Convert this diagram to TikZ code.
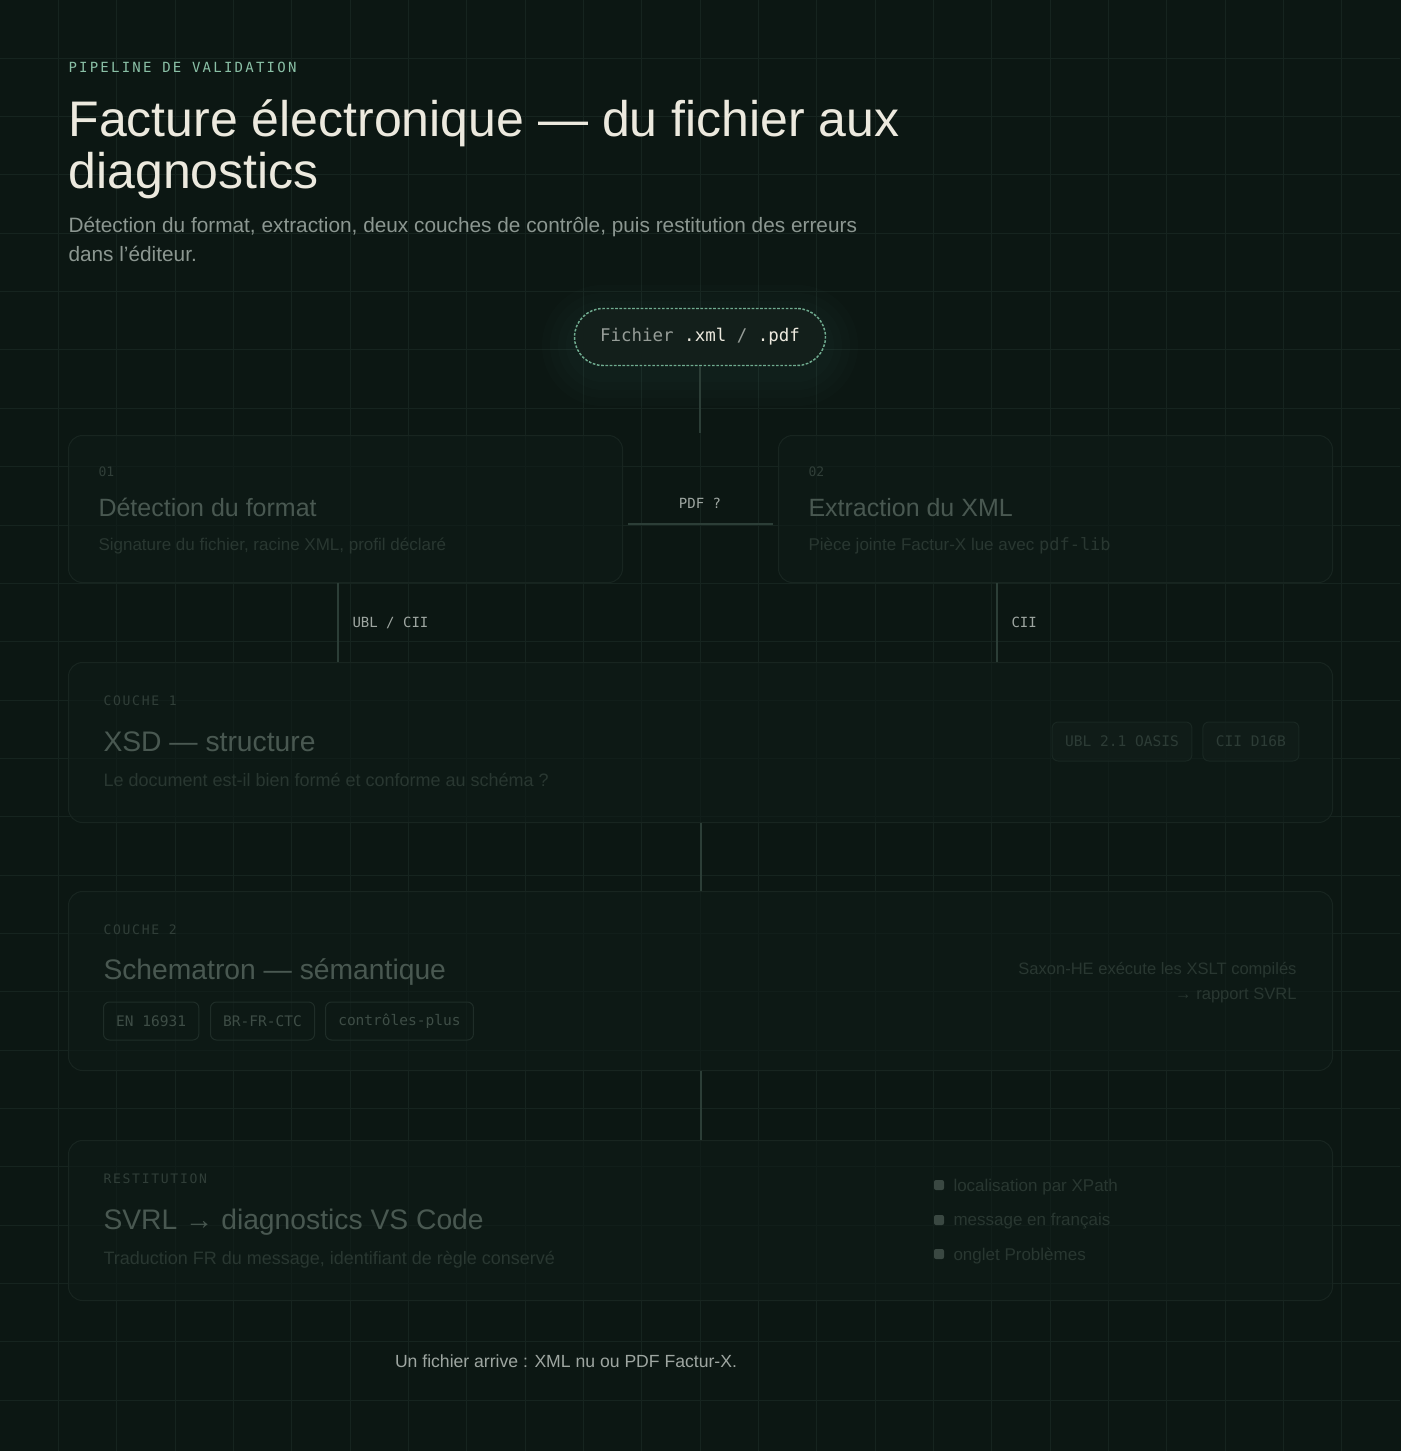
\documentclass[tikz,border=0pt]{standalone}
\usepackage{fontspec}
\setmainfont{Liberation Sans}
\newfontfamily\codefont{DejaVu Sans Mono}
\newfontfamily\eyebrowfont{DejaVu Sans Mono}[LetterSpace=16]
\newfontfamily\kickerfont{DejaVu Sans Mono}[LetterSpace=13]
\usetikzlibrary{positioning,calc}

\definecolor{bgdark}{RGB}{12,23,19}
\definecolor{gridc}{RGB}{22,36,31}
\definecolor{cardfill}{RGB}{15,27,23}
\definecolor{carddraw}{RGB}{24,37,32}
\definecolor{titlec}{RGB}{236,233,222}
\definecolor{mint}{RGB}{138,192,166}
\definecolor{subc}{RGB}{140,151,145}
\definecolor{dimnum}{RGB}{48,62,56}
\definecolor{dimhead}{RGB}{73,88,81}
\definecolor{dimtext}{RGB}{41,55,49}
\definecolor{linkc}{RGB}{44,62,55}
\definecolor{labelc}{RGB}{158,166,161}
\definecolor{tagfill}{RGB}{18,30,26}
\definecolor{tagdraw}{RGB}{25,39,34}
\definecolor{tagtext}{RGB}{45,60,54}
\definecolor{chipdraw}{RGB}{31,45,40}
\definecolor{chiptext}{RGB}{62,77,70}
\definecolor{pillfill}{RGB}{19,31,27}
\definecolor{pilldraw}{RGB}{112,172,144}
\definecolor{pillgray}{RGB}{150,157,152}
\definecolor{dotc}{RGB}{58,72,66}
\definecolor{footc}{RGB}{158,166,161}

\tikzset{every picture/.style={line width=0.75pt}}
\tikzset{
  gridline/.style={draw=gridc, line width=0.75pt},
  card/.style={draw=carddraw, fill=cardfill, fill opacity=0.6, rounded corners=10.5pt, anchor=north west, inner sep=0pt},
  txt/.style={inner sep=0pt, anchor=base west},
  link/.style={draw=linkc, line width=1.5pt},
  edgelabel/.style={inner sep=0pt, text=labelc, font=\codefont\fontsize{10.5}{12}\selectfont},
  tag/.style={draw=tagdraw, fill=tagfill, fill opacity=0.7, text opacity=1, rounded corners=4.5pt, inner xsep=9.75pt, inner ysep=0pt, minimum height=29.25pt, text=tagtext, font=\codefont\fontsize{10.9}{12}\selectfont},
  chip/.style={draw=chipdraw, rounded corners=4.5pt, inner xsep=9.5pt, inner ysep=0pt, minimum height=28.5pt, text=chiptext, font=\codefont\fontsize{10.9}{12}\selectfont},
  pill/.style={draw=pilldraw, fill=pillfill, dash pattern={on 2pt off 1.2pt}, line width=1.1pt, rounded corners=21.4pt, minimum width=188.25pt, minimum height=42.75pt, inner sep=0pt, font=\codefont\fontsize{13.1}{15}\selectfont},
  bullet/.style={fill=dotc, rounded corners=1.5pt, minimum size=7.5pt, inner sep=0pt}
}

\begin{document}
\begin{tikzpicture}[x=0.75pt,y=0.75pt,yscale=-1,xscale=1]
	%set diagram to the size of the reference
	\useasboundingbox (0,0) rectangle (1400,1451);
	\fill[bgdark] (-6,-6) rectangle (1406,1457);
	%Grid
	\foreach \i in {1,...,23} {\draw[gridline] (\i*58.333,0) -- (\i*58.333,1451);}
	\foreach \j in {1,...,24} {\draw[gridline] (0,\j*58.333) -- (1400,\j*58.333);}

	% Text Node
	\node[txt, text=mint, font=\eyebrowfont\fontsize{10.5}{12}\selectfont] (eyebrow) at (68,73) {PIPELINE DE VALIDATION};
	% Text Node
	\node[txt, text=titlec, font=\fontsize{37.5}{40}\selectfont] (title1) at (68,137) {Facture électronique — du fichier aux};
	\node[txt, text=titlec, font=\fontsize{37.5}{40}\selectfont] (title2) at (68,189) {diagnostics};
	% Text Node
	\node[txt, text=subc, font=\fontsize{15.6}{18}\selectfont] (sub1) at (68,233) {Détection du format, extraction, deux couches de contrôle, puis restitution des erreurs};
	\node[txt, text=subc, font=\fontsize{15.6}{18}\selectfont] (sub2) at (68,262) {dans l'éditeur.};

	%Shape: glow round the file
	\foreach \g in {8,16,24,32} {\fill[mint, opacity=0.014, rounded corners=21.4pt+\g*0.75pt] (574-\g,309-\g+8) rectangle (826+\g,366+\g+8);}
	%Shape: file pill
	\node[pill] (file) at (700,337) {{\color{pillgray}Fichier} {\color{titlec}.xml} {\color{pillgray}/} {\color{titlec}.pdf}};
	\coordinate (fork) at (700,433);
	\draw[link] (file) -- (fork);

	%Shape: step cards
	\node[card, minimum width=415.5pt, minimum height=110.25pt] (detect) at (68,435) {};
	\node[card, minimum width=415.5pt, minimum height=110.25pt] (extract) at (778,435) {};
	% Text Node
	\node[txt, text=dimnum, font=\codefont\fontsize{9.8}{11}\selectfont] (n01) at (98,476) {01};
	\node[txt, text=dimhead, font=\fontsize{18.75}{21}\selectfont] (detecthead) at (98,516) {Détection du format};
	\node[txt, text=dimtext, font=\fontsize{12.75}{15}\selectfont] (detectdesc) at (98,550) {Signature du fichier, racine XML, profil déclaré};
	% Text Node
	\node[txt, text=dimnum, font=\codefont\fontsize{9.8}{11}\selectfont] (n02) at (808,476) {02};
	\node[txt, text=dimhead, font=\fontsize{18.75}{21}\selectfont] (extracthead) at (808,516) {Extraction du XML};
	\node[txt, text=dimtext, font=\fontsize{12.75}{15}\selectfont] (extractdesc) at (808,550) {Pièce jointe Factur-X lue avec {\codefont pdf-lib}};

	%Straight Lines: PDF branch
	\draw[link] ($(detect.east)+(5,15)$) -- ($(extract.west)+(-5,15)$);
	\node[edgelabel] (pdfq) at (700,503) {PDF ?};

	%Shape: layer cards
	\node[card, minimum width=948pt, minimum height=120pt] (xsd) at (68,662) {};
	\node[card, minimum width=948pt, minimum height=134.25pt] (schematron) at (68,891) {};
	\node[card, minimum width=948pt, minimum height=120pt] (svrl) at (68,1140) {};

	%Straight Lines: into layer 1
	\coordinate (ublx) at (338,0);
	\coordinate (ciix) at (997,0);
	\draw[link] (detect.south -| ublx) -- (xsd.north -| ublx);
	\draw[link] (extract.south -| ciix) -- (xsd.north -| ciix);
	\node[edgelabel, anchor=base west] (ubl) at (352,627) {UBL / CII};
	\node[edgelabel, anchor=base west] (cii) at (1011,627) {CII};
	%Straight Lines: down the layers
	\draw[link] (xsd) -- (schematron);
	\draw[link] (schematron) -- (svrl);

	% Text Node: layer 1
	\node[txt, text=dimnum, font=\kickerfont\fontsize{9.8}{11}\selectfont] (k1) at (103,705) {COUCHE 1};
	\node[txt, text=dimhead, font=\fontsize{21.2}{24}\selectfont] (xsdhead) at (103,751) {XSD — structure};
	\node[txt, text=dimtext, font=\fontsize{13.5}{16}\selectfont] (xsddesc) at (103,786) {Le document est-il bien formé et conforme au schéma ?};
	\node[tag] (ubl21) at (1122,741.5) {UBL 2.1 OASIS};
	\node[tag, right=7.5pt of ubl21] (d16b) {CII D16B};

	% Text Node: layer 2
	\node[txt, text=dimnum, font=\kickerfont\fontsize{9.8}{11}\selectfont] (k2) at (103,934) {COUCHE 2};
	\node[txt, text=dimhead, font=\fontsize{21.2}{24}\selectfont] (schhead) at (103,979) {Schematron — sémantique};
	\node[chip, anchor=west] (en) at (103,1021) {EN 16931};
	\node[chip, right=8pt of en] (brfr) {BR-FR-CTC};
	\node[chip, right=7.5pt of brfr] (plus) {contrôles-plus};
	\node[txt, anchor=base east, text=dimtext, font=\fontsize{12.4}{15}\selectfont] (saxon1) at (1297,974) {Saxon-HE exécute les XSLT compilés};
	\node[txt, anchor=base east, text=dimtext, font=\fontsize{12.4}{15}\selectfont] (saxon2) at (1297,999) {→ rapport SVRL};

	% Text Node: restitution
	\node[txt, text=dimnum, font=\kickerfont\fontsize{9.8}{11}\selectfont] (k3) at (103,1183) {RESTITUTION};
	\node[txt, text=dimhead, font=\fontsize{21.2}{24}\selectfont] (svrlhead) at (103,1229) {SVRL → diagnostics VS Code};
	\node[txt, text=dimtext, font=\fontsize{13.5}{16}\selectfont] (svrldesc) at (103,1264) {Traduction FR du message, identifiant de règle conservé};
	\node[bullet] (dot1) at (939,1185) {};
	\node[bullet] (dot2) at (939,1220) {};
	\node[bullet] (dot3) at (939,1254) {};
	\node[txt, text=dimtext, font=\fontsize{12.75}{15}\selectfont] (pt1) at (953,1191) {localisation par XPath};
	\node[txt, text=dimtext, font=\fontsize{12.75}{15}\selectfont] (pt2) at (953,1225) {message en français};
	\node[txt, text=dimtext, font=\fontsize{12.75}{15}\selectfont] (pt3) at (953,1260) {onglet Problèmes};

	% Text Node: caption
	\node[inner sep=0pt, text=footc, font=\fontsize{13.2}{16}\selectfont] (caption) at (566,1361) {Un fichier arrive : XML nu ou PDF Factur-X.};
\end{tikzpicture}
\end{document}
